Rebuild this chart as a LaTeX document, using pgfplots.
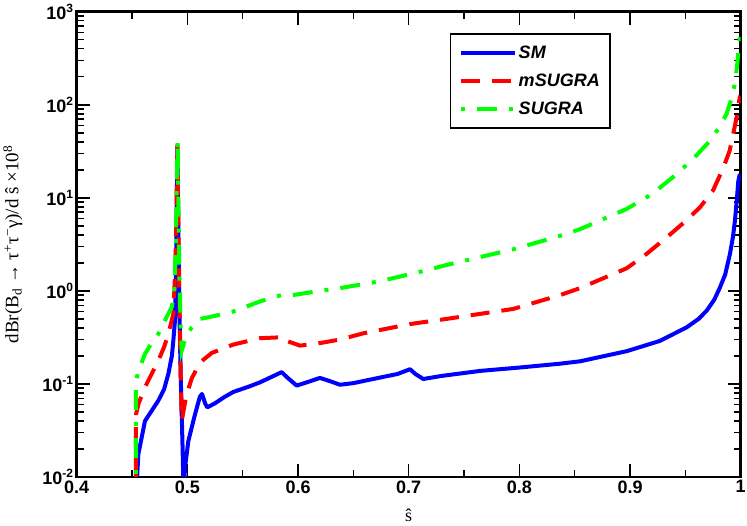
\documentclass[border=0pt]{standalone}
\usepackage{fontspec}
\setmainfont{Liberation Sans}
\newfontfamily\serif{Liberation Serif}
\usepackage{pgfplots}
\pgfplotsset{compat=1.18}
\newcommand{\tfont}{\fontsize{18}{21}\selectfont\bfseries}
\newcommand{\ex}[1]{\raisebox{7.5pt}{\fontsize{12}{12}\selectfont\bfseries #1}}
\begin{document}
\begin{tikzpicture}
\useasboundingbox (0,0) rectangle (747pt,526pt);
\begin{axis}[
  at={(76.7pt,49pt)}, anchor=south west,
  scale only axis, width=664pt, height=465.3pt,
  xmin=0.4, xmax=1, ymode=log, ymin=0.01, ymax=1000,
  xtick={0.4,0.5,0.6,0.7,0.8,0.9,1},
  xticklabels={0.4,0.5,0.6,0.7,0.8,0.9,1},
  minor x tick num=1,
  ytick={0.01,0.1,1,10,100,1000},
  yticklabels={10\ex{-2},10\ex{-1},10\ex{0},10\ex{1},10\ex{2},10\ex{3}},
  ticklabel style={font=\tfont},
  tick align=inside,
  major tick length=13pt, minor tick length=7pt,
  every tick/.style={black, line width=1.5pt},
  axis line style={line width=2.5pt},
  xlabel={\serif\fontsize{18}{18}\selectfont ŝ},
  xlabel style={at={(axis description cs:0.5,0)}, anchor=base, yshift=-44.5pt, inner sep=0pt},
  ylabel={\serif\fontsize{19}{19}\selectfont dBr(B\textsubscript{d} → τ\textsuperscript{+}τ\textsuperscript{−}γ)/d ŝ ×10\textsuperscript{8}},
  ylabel style={at={(axis description cs:-0.1125,0.5)}, anchor=north, inner sep=1pt},
  legend style={at={(axis description cs:0.5622,0.9536)}, anchor=north west,
    draw=black, line width=1.5pt, inner xsep=8pt, inner ysep=10pt,
    row sep=10pt, font=\fontsize{18}{20}\selectfont\bfseries\itshape,
    /tikz/every even column/.append style={column sep=13pt}},
  legend cell align=left,
  legend image code/.code={\draw[#1] (0pt,0pt) -- (54pt,0pt);},
]
\addplot[color={rgb,255:red,0;green,0;blue,255}, line width=4pt, line join=round] coordinates {
(0.4533,0.001) (0.4545,0.0095) (0.4557,0.0176) (0.4617,0.040) (0.4680,0.052)
(0.4737,0.066) (0.4790,0.088) (0.4828,0.128) (0.4860,0.20) (0.4873,0.29)
(0.4888,0.48) (0.4898,2) (0.4905,10) (0.4910,36) (0.4916,8) (0.4926,0.8)
(0.4940,0.12) (0.4955,0.025) (0.4966,0.007) (0.4980,0.013) (0.5009,0.0244)
(0.5069,0.047) (0.5113,0.073) (0.5132,0.078) (0.5160,0.062) (0.5180,0.056)
(0.5250,0.062) (0.5340,0.073) (0.5415,0.082) (0.5560,0.094) (0.5656,0.104)
(0.5780,0.122) (0.5852,0.134) (0.5900,0.118) (0.5988,0.096) (0.6100,0.106)
(0.6198,0.116) (0.6280,0.108) (0.6379,0.098) (0.6500,0.102) (0.6740,0.117)
(0.6900,0.128) (0.7012,0.144) (0.7060,0.128) (0.7132,0.113) (0.7300,0.122)
(0.7644,0.138) (0.8000,0.150) (0.8367,0.165) (0.8548,0.175) (0.8970,0.225)
(0.9270,0.29) (0.9512,0.406) (0.9620,0.50) (0.9693,0.614) (0.9760,0.80)
(0.9813,1.09) (0.9860,1.5) (0.9903,2.5) (0.9930,3.8) (0.9948,5.7)
(0.9965,9.5) (0.9978,15) (0.9992,18)
};
\addlegendentry{SM}
\addplot[color={rgb,255:red,255;green,0;blue,0}, line width=4pt, dash pattern=on 19pt off 12pt] coordinates {
(0.4533,0.001) (0.4536,0.047) (0.4560,0.062) (0.4617,0.092) (0.4680,0.13)
(0.4737,0.177) (0.4790,0.25) (0.4828,0.344) (0.4873,0.565) (0.4893,2)
(0.4904,12) (0.4910,38) (0.4917,8) (0.4927,1) (0.4940,0.12) (0.4949,0.040)
(0.4990,0.075) (0.5040,0.115) (0.5114,0.17) (0.5220,0.215) (0.5340,0.245)
(0.5415,0.265) (0.5656,0.31) (0.5867,0.318) (0.5897,0.29) (0.6018,0.258)
(0.6200,0.275) (0.6379,0.30) (0.6590,0.35) (0.7012,0.44) (0.7343,0.50)
(0.7945,0.64) (0.8367,0.90) (0.8548,1.07) (0.8970,1.75) (0.9150,2.5)
(0.9358,4.0) (0.9500,5.6) (0.9632,7.9) (0.9750,12) (0.9843,21)
(0.9900,32) (0.9933,49) (0.9965,75) (0.9987,112) (0.9995,125)
};
\addlegendentry{mSUGRA}
\addplot[color={rgb,255:red,0;green,255;blue,0}, line width=4pt, dash pattern=on 4pt off 12pt on 20pt off 12pt] coordinates {
(0.4533,0.001) (0.4535,0.108) (0.4560,0.14) (0.4617,0.21) (0.4680,0.28)
(0.4737,0.344) (0.4797,0.48) (0.4858,0.665) (0.4880,0.9) (0.4895,3)
(0.4905,15) (0.4912,42) (0.4918,10) (0.4928,1.5) (0.4940,0.4) (0.4949,0.228)
(0.4990,0.33) (0.5040,0.406) (0.5114,0.50) (0.5190,0.52) (0.5340,0.57)
(0.5415,0.60) (0.5656,0.77) (0.5800,0.87) (0.5867,0.91) (0.5950,0.90)
(0.6198,1.00) (0.6379,1.07) (0.6740,1.27) (0.7000,1.50) (0.7102,1.60)
(0.7343,1.90) (0.7945,2.80) (0.8367,3.9) (0.8548,4.6) (0.8970,7.6)
(0.9200,11) (0.9422,18) (0.9580,27) (0.9723,41) (0.9810,58) (0.9873,80)
(0.9920,120) (0.9948,170) (0.9970,280) (0.9985,450) (0.9995,560)
};
\addlegendentry{SUGRA}
\end{axis}
\end{tikzpicture}
\end{document}
